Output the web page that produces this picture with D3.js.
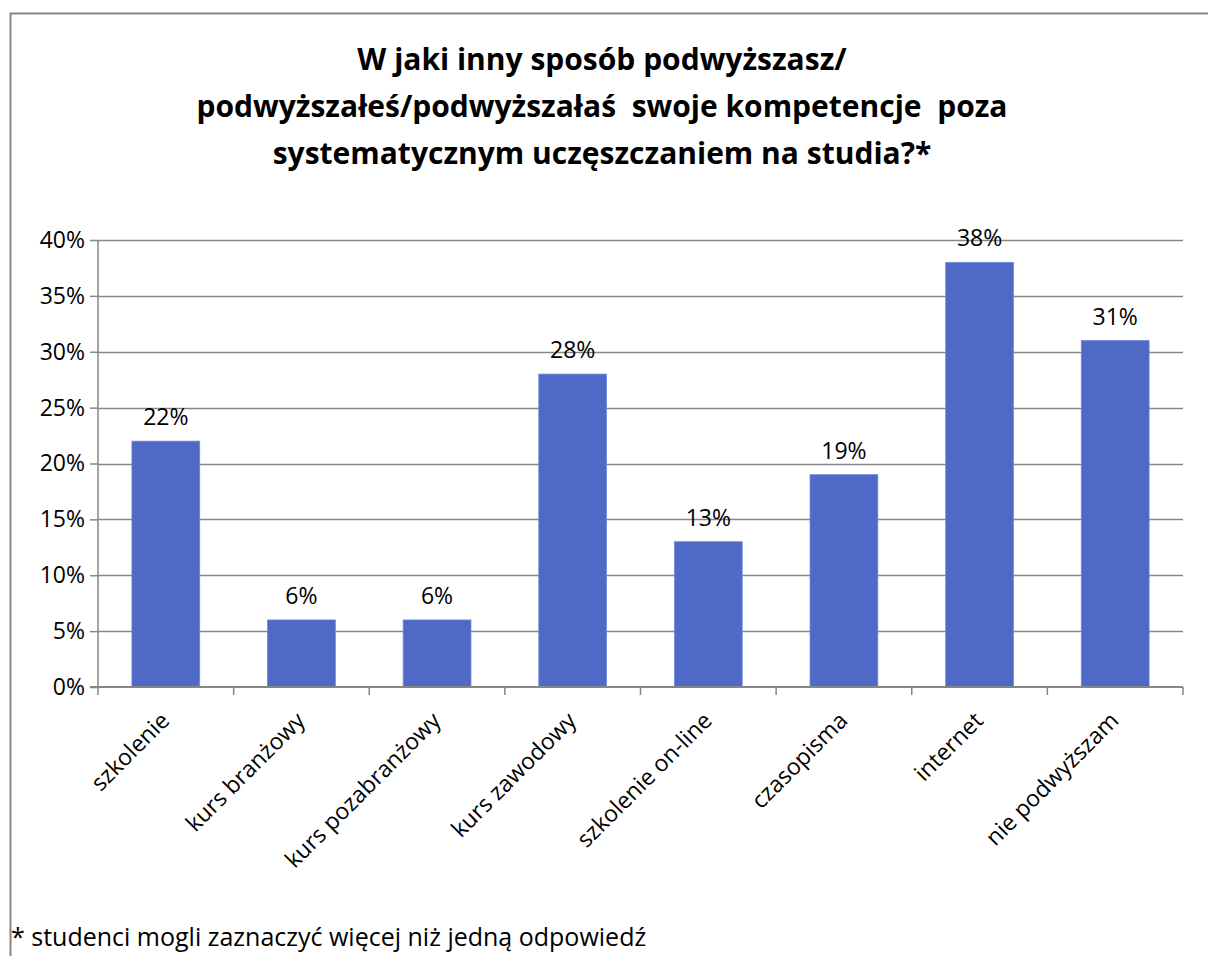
<!DOCTYPE html>
<html>
<head>
<meta charset="utf-8">
<script src="https://cdn.jsdelivr.net/npm/d3@7"></script>
<style>
  body { margin: 0; background: #fff; }
  svg text { font-family: "Open Sans", "Noto Sans", sans-serif; fill: #000; }
</style>
</head>
<body>
<div id="chart"></div>
<script>
const categories = ['szkolenie', 'kurs branżowy', 'kurs pozabranżowy', 'kurs zawodowy',
  'szkolenie on-line', 'czasopisma', 'internet', 'nie podwyższam'];
const values = [22, 6, 6, 28, 13, 19, 38, 31];
const yTicks = [0, 5, 10, 15, 20, 25, 30, 35, 40];
const titleLines = [
  'W jaki inny sposób podwyższasz/',
  'podwyższałeś/podwyższałaś  swoje kompetencje  poza',
  'systematycznym uczęszczaniem na studia?*'
];
const footnote = '* studenci mogli zaznaczyć więcej niż jedną odpowiedź';

const w = 1208;
const h = 956;
const margin = {top: 240, left: 98, right: 25, bottom: 269};

const svg = d3.select('#chart')
              .append('svg')
              .attr('width', w)
              .attr('height', h);

// chart border (right and bottom run off the picture)
svg.append('rect')
   .attr('x', 10.5)
   .attr('y', 13.5)
   .attr('width', w)
   .attr('height', h)
   .attr('fill', 'none')
   .attr('stroke', '#868686')
   .attr('stroke-width', 2);

// title
svg.append('g')
   .selectAll('text')
   .data(titleLines)
   .enter()
   .append('text')
   .attr('x', 602)
   .attr('y', (d, i) => 70 + i * 47)
   .attr('text-anchor', 'middle')
   .style('white-space', 'pre')
   .style('font-size', '30px')
   .style('font-weight', 'bold')
   .text(d => d);

const x = d3.scaleBand()
            .domain(categories)
            .range([margin.left, w - margin.right])
            .paddingInner(0.5)
            .paddingOuter(0.25);

const xEdges = d3.scaleLinear()
                 .domain([0, categories.length])
                 .range([margin.left, w - margin.right]);

const y = d3.scaleLinear()
            .domain([0, 40])
            .range([h - margin.bottom, margin.top]);

// gridlines
svg.append('g')
   .selectAll('line')
   .data(yTicks.slice(1))
   .enter()
   .append('line')
   .attr('x1', margin.left)
   .attr('x2', w - margin.right)
   .attr('y1', d => Math.round(y(d)) + 0.5)
   .attr('y2', d => Math.round(y(d)) + 0.5)
   .attr('stroke', '#868686')
   .attr('stroke-width', 1.5);

// bars
svg.append('g')
   .selectAll('rect')
   .data(values)
   .enter()
   .append('rect')
   .attr('x', (d, i) => x(categories[i]))
   .attr('y', d => y(d))
   .attr('width', x.bandwidth())
   .attr('height', d => y(0) - y(d))
   .attr('fill', '#4F69C6')
   .attr('stroke', '#7088D8')
   .attr('stroke-width', 0.8);

// value labels
svg.append('g')
   .selectAll('text')
   .data(values)
   .enter()
   .append('text')
   .attr('x', (d, i) => x(categories[i]) + x.bandwidth() / 2)
   .attr('y', d => y(d) - 16)
   .attr('text-anchor', 'middle')
   .style('font-size', '23px')
   .text(d => d + '%');

// y axis
const yAxis = d3.axisLeft(y)
                .tickValues(yTicks)
                .tickSize(8)
                .tickPadding(5)
                .tickFormat(d => d + '%');

const gy = svg.append('g')
              .attr('transform', `translate(${margin.left},0)`)
              .call(yAxis);
gy.selectAll('line, path').attr('stroke', '#868686').attr('stroke-width', 1.5);
gy.select('.domain').attr('d', `M0,${y(40)}V${y(0)}`);
gy.selectAll('text').style('font-size', '23px').attr('fill', '#000');

// x axis with ticks at band edges
const gx = svg.append('g')
              .attr('transform', `translate(0,${y(0)})`);
gx.append('line')
  .attr('x1', margin.left - 8)
  .attr('x2', w - margin.right)
  .attr('stroke', '#868686')
  .attr('stroke-width', 2);
gx.selectAll('.edge')
  .data(d3.range(categories.length + 1))
  .enter()
  .append('line')
  .attr('class', 'edge')
  .attr('x1', d => xEdges(d))
  .attr('x2', d => xEdges(d))
  .attr('y1', 0)
  .attr('y2', 8)
  .attr('stroke', '#868686')
  .attr('stroke-width', 1.5);

// rotated category labels
gx.selectAll('.cat')
  .data(categories)
  .enter()
  .append('text')
  .attr('class', 'cat')
  .attr('transform', d => `translate(${x(d) + x.bandwidth() / 2 + 5},${35}) rotate(-45)`)
  .attr('text-anchor', 'end')
  .style('font-size', '23px')
  .text(d => d);

// footnote
svg.append('text')
   .attr('x', 11)
   .attr('y', 946)
   .style('font-size', '25px')
   .text(footnote);
</script>
</body>
</html>
